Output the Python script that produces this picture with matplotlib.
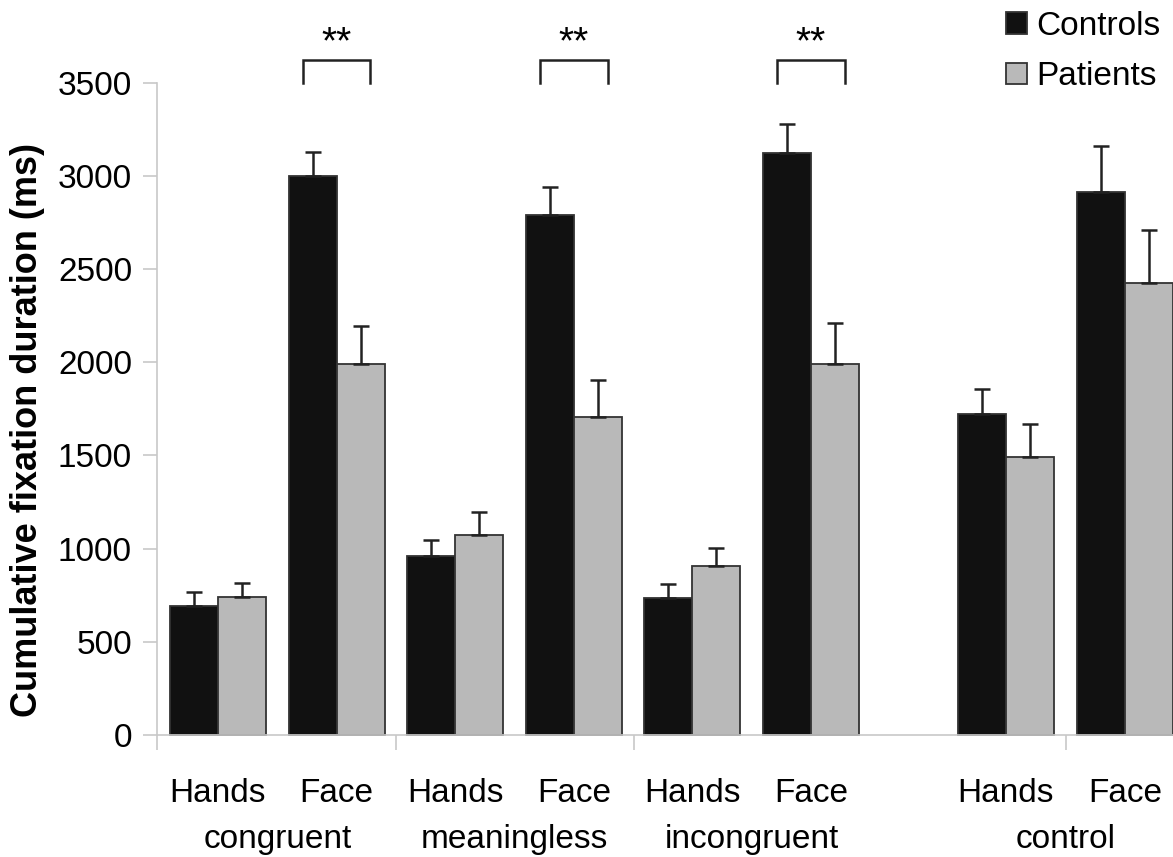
import matplotlib
matplotlib.use("Agg")
import matplotlib.pyplot as plt
import numpy as np

plt.rcParams['font.family'] = ['Liberation Sans', 'DejaVu Sans']

# ---- data ----
conditions = ["congruent", "meaningless", "incongruent", "control"]
regions = ["Hands", "Face", "Hands", "Face", "Hands", "Face", "Hands", "Face"]
controls = [694, 3001, 962, 2790, 735, 3122, 1725, 2916]
controls_err = [73, 129, 86, 150, 77, 159, 129, 247]
patients = [742, 1989, 1075, 1705, 907, 1989, 1490, 2423]
patients_err = [75, 207, 121, 201, 95, 221, 180, 284]
significant = [False, True, False, True, False, True, False, False]
sig_label = "**"
yticks = [0, 500, 1000, 1500, 2000, 2500, 3000, 3500]
series_names = ["Controls", "Patients"]

# ---- layout ----
W, H = 1173, 857
fig = plt.figure(figsize=(W / 100, H / 100), dpi=100)
ax = fig.add_axes([157 / W, 1 - 735 / H, 1016 / W, (735 - 82.7) / H])

pos = np.array([0, 1, 2, 3, 4, 5, 6.644, 7.647])
group_centers = [0.5, 2.5, 4.5, 7.146]
boundaries = [-0.514, 1.5, 3.51, 7.146]
bw = 0.405

c_col = '#111111'
p_col = '#b9b9b9'
edge = '#333333'

b1 = ax.bar(pos - bw / 2, controls, bw, color=c_col, edgecolor=edge, linewidth=1.3,
            label=series_names[0], zorder=2, clip_on=False)
b2 = ax.bar(pos + bw / 2, patients, bw, color=p_col, edgecolor=edge, linewidth=1.3,
            label=series_names[1], zorder=2, clip_on=False)

zeros = np.zeros(len(pos))
ax.errorbar(pos - bw / 2, controls, yerr=[zeros, controls_err], fmt='none',
            ecolor='#222222', elinewidth=1.8, capsize=5.5, capthick=1.8, zorder=3, clip_on=False)
ax.errorbar(pos + bw / 2, patients, yerr=[zeros, patients_err], fmt='none',
            ecolor='#222222', elinewidth=1.8, capsize=5.5, capthick=1.8, zorder=3, clip_on=False)

# significance brackets
for i, s in enumerate(significant):
    if s:
        x0, x1 = pos[i] - 0.286, pos[i] + 0.286
        ax.plot([x0, x0, x1, x1], [3500, 3623, 3623, 3500], color='#222222', lw=1.8,
                clip_on=False, solid_joinstyle='miter')
        ax.text(pos[i], 3660, sig_label, ha='center', va='baseline', fontsize=28)

ax.set_xlim(-0.514, 8.052)
ax.set_ylim(0, 3500)

for sp in ['top', 'right']:
    ax.spines[sp].set_visible(False)
for sp in ['left', 'bottom']:
    ax.spines[sp].set_color('#c8c8c8')
    ax.spines[sp].set_linewidth(1.2)

ax.set_yticks(yticks)
ax.set_yticklabels([str(v) for v in yticks], fontsize=24)
ax.tick_params(axis='y', length=10, width=1.2, color='#c8c8c8', pad=8)

ax.set_xticks(pos)
ax.set_xticklabels(regions, fontsize=24)
ax.tick_params(axis='x', which='major', length=0, pad=31)
ax.set_xticks(boundaries, minor=True)
ax.tick_params(axis='x', which='minor', length=11, width=1.2, color='#c8c8c8')

for gc, name in zip(group_centers, conditions):
    ax.text(gc, -0.160, name, transform=ax.get_xaxis_transform(), ha='center',
            va='center', fontsize=24)

fig.text(28 / W, 1 - 430 / H, "Cumulative fixation duration (ms)", rotation=90,
         ha='center', va='center', fontsize=26, fontweight='bold')

leg = fig.legend(handles=[b1, b2], labels=series_names, loc='upper left',
                 bbox_to_anchor=(1006 / W, 1 - 11 / H), frameon=False, fontsize=24,
                 handlelength=0.62, handleheight=0.62, handletextpad=0.3,
                 labelspacing=0.58, borderpad=0, borderaxespad=0)

fig.savefig("out.png", dpi=100)
